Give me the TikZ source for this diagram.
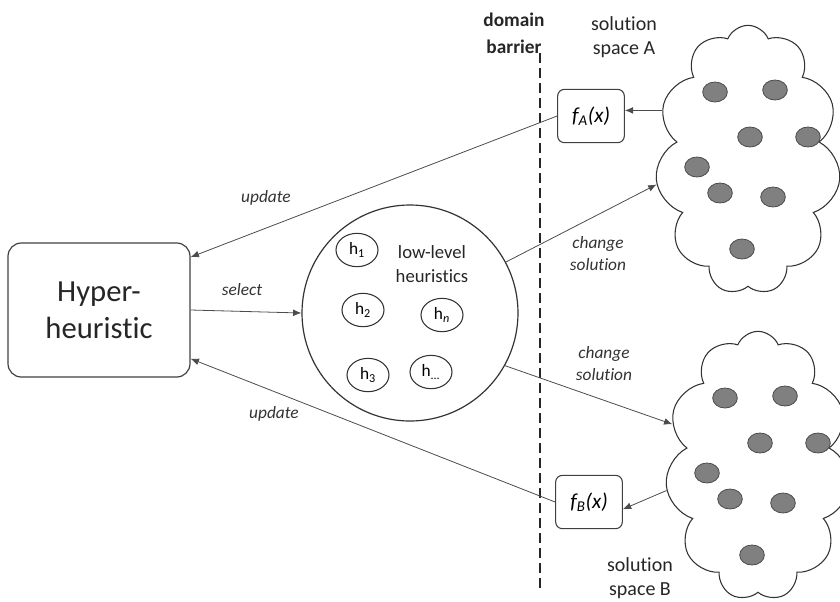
\documentclass[tikz,border=0pt]{standalone}
\usepackage{fontspec}
\setmainfont{Carlito}[Ligatures=NoCommon]
\usetikzlibrary{positioning,arrows.meta,shapes.geometric,shapes.symbols}

\begin{document}
\begin{tikzpicture}[
		x=0.75pt, y=-0.75pt,
		hbox/.style={
			draw=black!75,
			line width=0.9pt,
			rounded corners=10pt,
			align=center,
			minimum width=136.5pt,
			minimum height=100.5pt,
			text=black!85,
			font=\fontsize{23}{28}\selectfont
		},
		fitbox/.style={
			draw=black!75,
			line width=0.8pt,
			rounded corners=5pt,
			minimum width=50pt,
			minimum height=40pt,
			inner sep=0pt,
			font=\fontsize{16}{18}\selectfont\itshape
		},
		pool/.style={draw=black!80, line width=0.9pt, circle, minimum size=162pt, inner sep=0pt},
		hnode/.style={
			draw=black!80,
			line width=0.8pt,
			ellipse,
			minimum width=31.5pt,
			minimum height=25pt,
			inner sep=0pt,
			font=\fontsize{13}{15}\selectfont
		},
		solspace/.style={
			cloud,
			cloud puffs=11,
			cloud puff arc=135,
			cloud ignores aspect,
			draw=black!80,
			line width=0.8pt,
			minimum width=139pt,
			minimum height=202pt
		},
		soldot/.style={ellipse, draw=black!70, fill=black!50, line width=0.6pt, minimum width=18.5pt, minimum height=15pt, inner sep=0pt},
		lbl/.style={align=center, text=black!80, font=\fontsize{13}{16.5}\selectfont\itshape},
		txt/.style={align=center, text=black!85, font=\fontsize{15}{18}\selectfont},
		arrow/.style={-{Latex[length=2.2mm, width=1.8mm]}, draw=black!70, line width=0.6pt},
		barrier/.style={draw=black!85, line width=1.5pt, dash pattern=on 7.5pt off 3.75pt}
		]
		
		\useasboundingbox (0,0) rectangle (840,601);
		
		% Hyper-heuristic
		\node[hbox] (hyper) at (99,310) {Hyper-\\heuristic};
		
		% Low-level heuristics
		\node[pool] (pool) at (410,313) {};
		\node[txt, font=\fontsize{14}{18}\selectfont] (pooltext) at (432,264) {low-level\\heuristics};
		\node[hnode] (h1) at (357,250) {h\textsubscript{1}};
		\node[hnode] (h2) at (363,310) {h\textsubscript{2}};
		\node[hnode] (hn) at (442,315) {h\textsubscript{\itshape n}};
		\node[hnode] (h3) at (368,375) {h\textsubscript{3}};
		\node[hnode] (hdots) at (431,372) {h\textsubscript{...}};
		
		% Domain barrier
		\coordinate (bartop) at (540,53);
		\coordinate (barbot) at (540,590);
		\draw[barrier] (bartop) -- (barbot);
		\node[txt, font=\bfseries\fontsize{14.5}{20}\selectfont] (barlabel) at (514,33) {domain\\barrier};
		
		% Solution spaces
		\node[solspace] (spaceA) at (748,160) {};
		\node[solspace] (spaceB) at (758,466) {};
		\foreach \dx/\dy [count=\i] in {-33/-68, 27/-70, 2/-23, 60/-23, -51/7, -28/33, 25/37, -6/89} {
			\node[soldot] (dotA\i) at ([shift={(\dx,\dy)}]spaceA.center) {};
			\node[soldot] (dotB\i) at ([shift={(\dx,\dy)}]spaceB.center) {};
		}
		\node[txt] (labelA) at (624,37) {solution\\space A};
		\node[txt] (labelB) at (640,578) {solution\\space B};
		
		% Evaluation functions
		\node[fitbox] (fA) at (591,116) {f\textsubscript{A}(x)};
		\node[fitbox] (fB) at (589,502) {f\textsubscript{B}(x)};
		
		% Labels
		\node[lbl] (upd1) at (266,198) {update};
		\node[lbl] (sel) at (242,290) {select};
		\node[lbl] (upd2) at (274,414) {update};
		\node[lbl] (chg1) at (598,254) {change\\solution};
		\node[lbl] (chg2) at (604,364) {change\\solution};
		
		% Arrows
		\draw[arrow] (hyper.east) -- (pool.west);
		\draw[arrow] (pool.28) -- (spaceA.195);
		\draw[arrow] (pool.-29) -- (spaceB.154);
		\draw[arrow] (spaceA.150) -- (fA.east |- spaceA.150);
		\draw[arrow] (spaceB.195) -- (fB.-12);
		\draw[arrow] (fA.west) -- (hyper.30);
		\draw[arrow] (fB.west) -- (hyper.-28);
		
	\end{tikzpicture}
\end{document}
